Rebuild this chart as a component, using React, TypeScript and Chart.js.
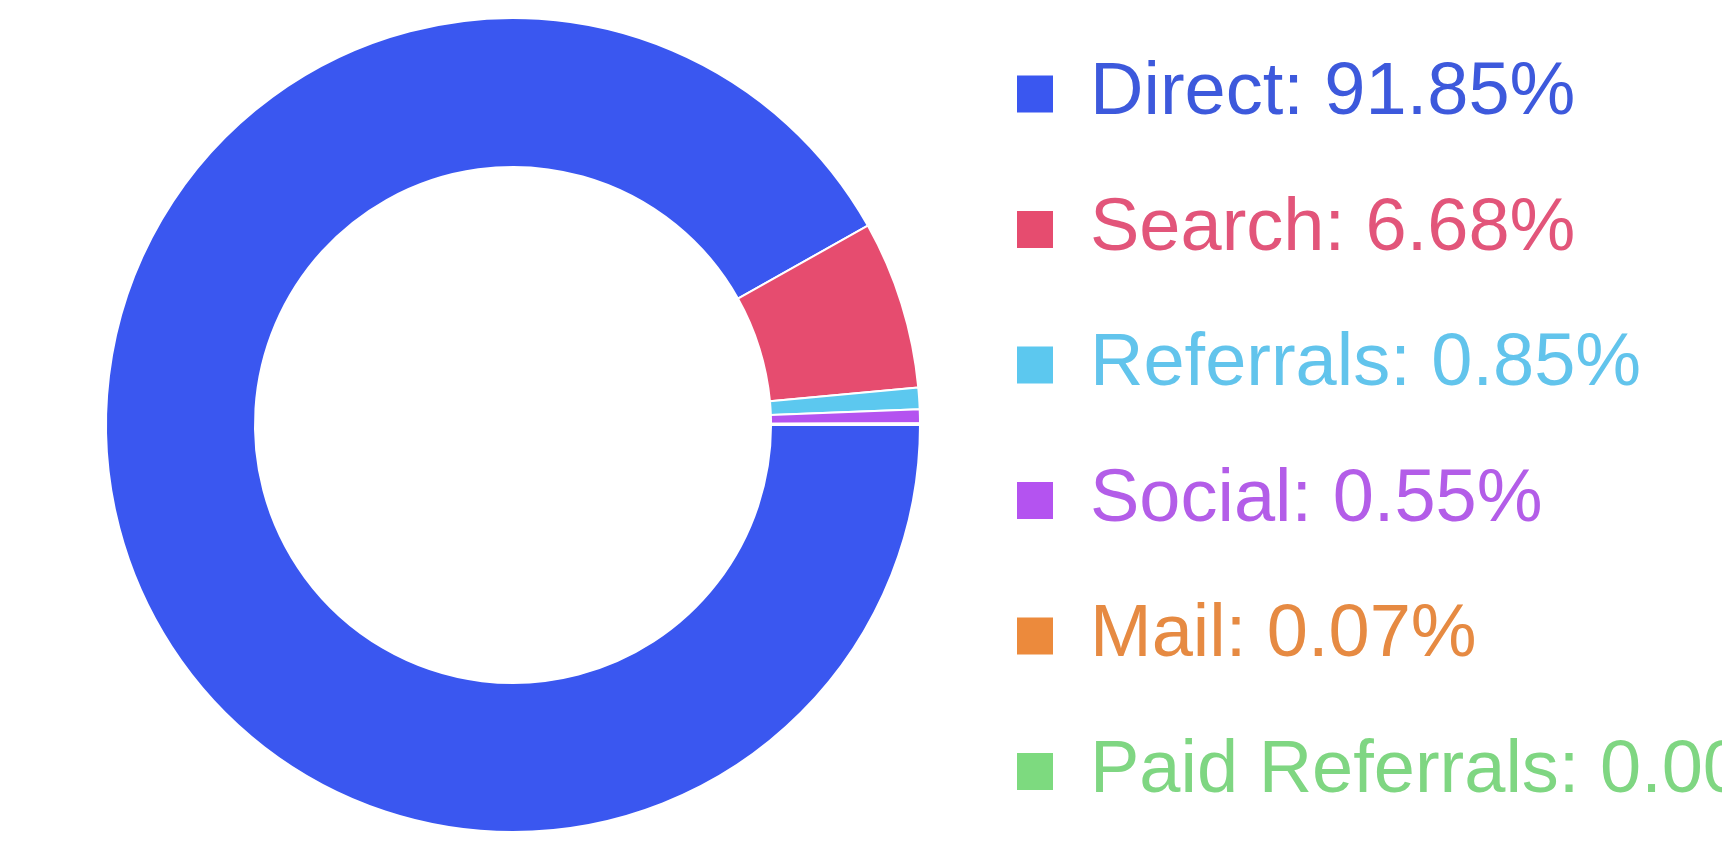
import React, { useEffect, useRef } from "react";
import { Chart, registerables } from "chart.js";

Chart.register(...registerables);

const categories = ["Direct", "Search", "Referrals", "Social", "Mail", "Paid Referrals"];
const shares = [91.85, 6.68, 0.85, 0.55, 0.07, 0.0];
const sliceColors = ["#3a57f0", "#e64c6f", "#5cc8ef", "#b453f0", "#ec8a3c", "#7dda7f"];
const labelColors = ["#3d59dc", "#e2557a", "#62c4ec", "#b35de8", "#e68a42", "#7fd682"];

const FONT = "'Liberation Sans', Arial, Helvetica, sans-serif";

export default function App() {
  const canvasRef = useRef<HTMLCanvasElement | null>(null);

  useEffect(() => {
    const canvas = canvasRef.current;
    if (!canvas) return;
    const chart = new Chart(canvas, {
      type: "doughnut",
      data: {
        labels: categories,
        datasets: [
          {
            data: shares,
            backgroundColor: sliceColors,
            borderColor: "#ffffff",
            borderWidth: 2,
          },
        ],
      },
      options: {
        responsive: false,
        animation: false,
        rotation: 90,
        cutout: "63.4%",
        layout: { padding: { left: 46, top: 17, right: 0, bottom: 0 } },
        plugins: {
          tooltip: { enabled: false },
          title: {
            display: true,
            position: "bottom",
            text: "",
            font: { size: 10, lineHeight: 1 },
            padding: { top: 57, bottom: 0 },
          },
          legend: {
            display: true,
            position: "right",
            align: "start",
            maxWidth: 800,
            title: {
              display: true,
              text: "",
              font: { size: 3, lineHeight: 1 },
              padding: 0,
            },
            labels: {
              boxWidth: 36,
              boxHeight: 37,
              padding: 37,
              font: { family: FONT, size: 74, lineHeight: 98.5 / 74 },
              generateLabels: (ch: any) => {
                const ds = ch.data.datasets[0];
                return (ch.data.labels as string[]).map((lab, i) => ({
                  text: [`${lab}: ${Number(ds.data[i]).toFixed(2)}%`],
                  fillStyle: sliceColors[i],
                  strokeStyle: "rgba(0,0,0,0)",
                  lineWidth: 0,
                  fontColor: labelColors[i],
                  hidden: false,
                  index: i,
                })) as any;
              },
            },
          },
        },
      },
    });
    return () => chart.destroy();
  }, []);

  return (
    <div
      style={{
        position: "fixed",
        left: 0,
        top: 0,
        width: "1722px",
        height: "849px",
        overflow: "hidden",
        background: "#ffffff",
      }}
    >
      <canvas
        ref={canvasRef}
        width={1780}
        height={900}
        style={{ display: "block", width: "1780px", height: "900px" }}
      />
    </div>
  );
}
